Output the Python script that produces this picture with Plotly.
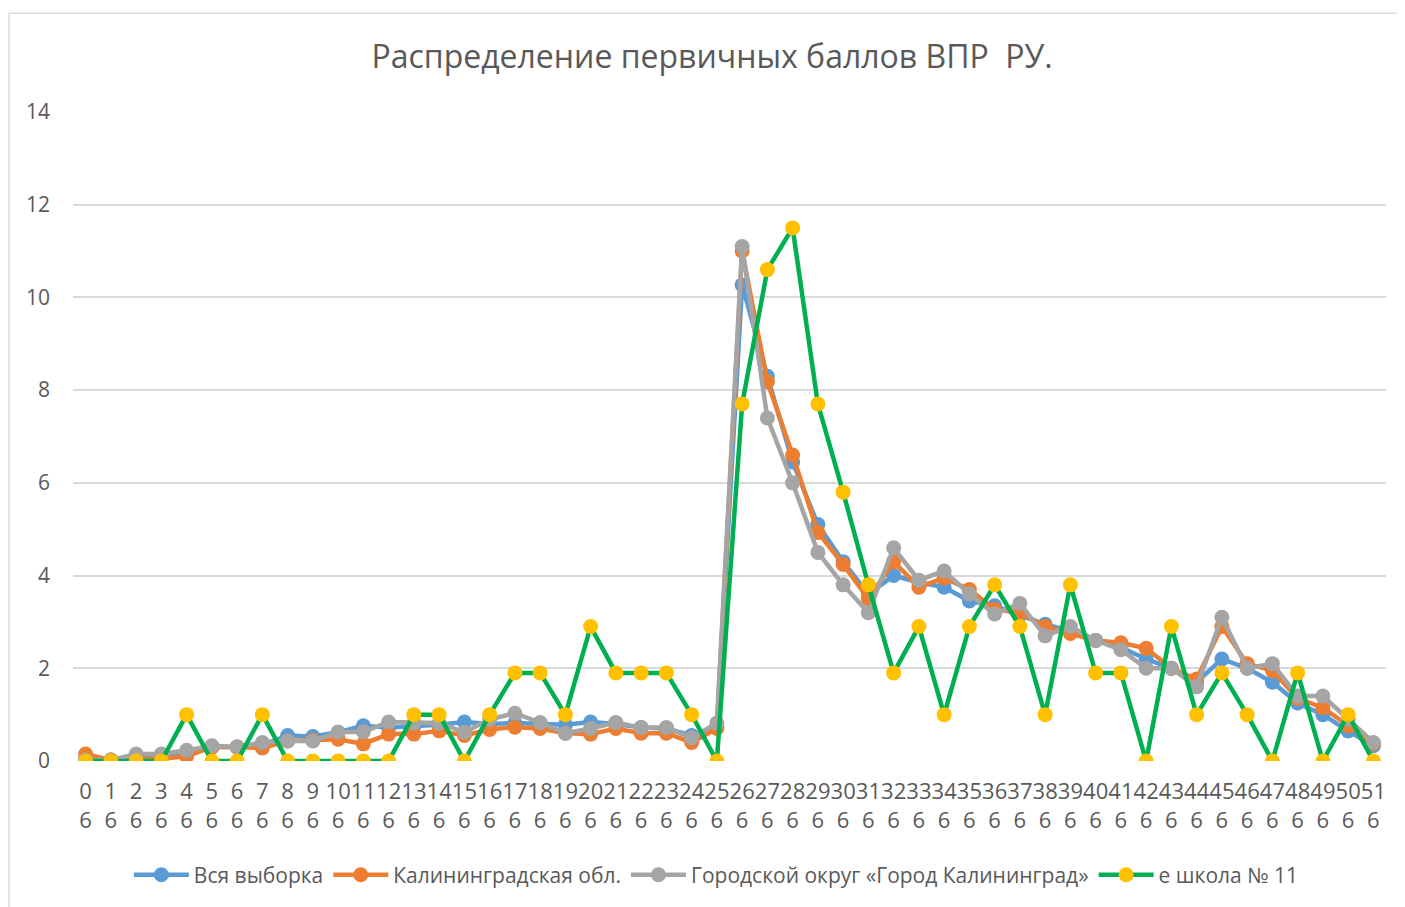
import plotly.graph_objects as go

categories = [str(i) for i in range(52)]
sub_labels = ["6"] * 52

vsya = [0.05, 0.02, 0.05, 0.08, 0.15, 0.3, 0.3, 0.35, 0.55, 0.53, 0.62, 0.76, 0.72, 0.75, 0.78, 0.84, 0.8, 0.82, 0.8, 0.78, 0.84, 0.8, 0.72, 0.7, 0.55, 0.72,
        10.27, 8.3, 6.45, 5.1, 4.3, 3.6, 4.0, 3.85, 3.75, 3.45, 3.35, 3.15, 2.95, 2.8, 2.6, 2.45, 2.2, 2.0, 1.7, 2.2, 2.0, 1.7, 1.25, 1.0, 0.65, 0.33]
kalobl = [0.15, 0.02, 0.05, 0.05, 0.1, 0.3, 0.3, 0.28, 0.43, 0.45, 0.47, 0.37, 0.58, 0.58, 0.65, 0.55, 0.68, 0.73, 0.7, 0.6, 0.58, 0.7, 0.6, 0.6, 0.4, 0.7,
          11.0, 8.18, 6.6, 4.93, 4.24, 3.5, 4.3, 3.75, 3.95, 3.7, 3.27, 3.2, 2.9, 2.75, 2.6, 2.55, 2.43, 2.0, 1.77, 2.9, 2.1, 1.95, 1.35, 1.15, 0.76, 0.38]
gorod = [0.02, 0.02, 0.15, 0.15, 0.23, 0.33, 0.3, 0.4, 0.43, 0.43, 0.62, 0.63, 0.84, 0.82, 0.82, 0.62, 0.9, 1.03, 0.83, 0.6, 0.7, 0.83, 0.72, 0.72, 0.5, 0.82,
         11.1, 7.4, 6.0, 4.5, 3.8, 3.2, 4.6, 3.9, 4.1, 3.6, 3.17, 3.4, 2.7, 2.9, 2.6, 2.4, 2.0, 2.0, 1.6, 3.1, 2.0, 2.1, 1.4, 1.4, 0.9, 0.4]
shkola = [0, 0, 0, 0, 1, 0, 0, 1, 0, 0, 0, 0, 0, 1, 1, 0, 1, 1.9, 1.9, 1, 2.9, 1.9, 1.9, 1.9, 1, 0,
          7.7, 10.6, 11.5, 7.7, 5.8, 3.8, 1.9, 2.9, 1, 2.9, 3.8, 2.9, 1, 3.8, 1.9, 1.9, 0, 2.9, 1, 1.9, 1, 0, 1.9, 0, 1, 0]

series_names = ["Вся выборка", "Калининградская обл.", "Городской округ «Город Калининград»", "е школа № 11"]
title_text = "Распределение первичных баллов ВПР  РУ."
y_ticks = [0, 2, 4, 6, 8, 10, 12, 14]

tick_text = [f"{c}<br>{s}" for c, s in zip(categories, sub_labels)]

fig = go.Figure()
styles = [
    (vsya, "#5B9BD5", "#5B9BD5"),
    (kalobl, "#ED7D31", "#ED7D31"),
    (gorod, "#A5A5A5", "#A5A5A5"),
    (shkola, "#00B050", "#FFC000"),
]
for (vals, lc, mc), name in zip(styles, series_names):
    fig.add_trace(go.Scatter(
        x=categories, y=vals, name=name, mode="lines+markers",
        line=dict(color=lc, width=4.5),
        marker=dict(color=mc, size=15, line=dict(width=0)),
    ))

fig.update_layout(
    width=1397, height=899,
    paper_bgcolor="white", plot_bgcolor="white",
    margin=dict(l=65, r=19, t=104, b=145),
    font=dict(family="Open Sans", color="#595959"),
    title=dict(text=title_text, x=0.504, xref="container", xanchor="center", y=0.9455, yanchor="middle",
               font=dict(size=32, color="#595959", family="Open Sans")),
    showlegend=True,
    legend=dict(orientation="h", x=0.49, xanchor="center", y=-0.174, yanchor="middle",
                font=dict(size=21, color="#595959"), itemwidth=55, tracegroupgap=0),
    xaxis=dict(type="category", tickmode="array", tickvals=categories, ticktext=tick_text,
               range=[-0.5, 51.5], showgrid=False, showline=False, ticks="",
               tickfont=dict(size=22, color="#595959"), tickangle=0, zeroline=False,
               ticklabelstandoff=15),
    yaxis=dict(range=[0, 14], tickvals=y_ticks, showgrid=True, gridcolor="#D9D9D9", gridwidth=1.5,
               zeroline=False, showline=False, ticks="", ticklabelstandoff=22,
               tickfont=dict(size=21, color="#595959")),
)

# chart-area border (left and top edges visible)
fig.add_shape(type="line", xref="paper", yref="paper", x0=-0.0487, x1=-0.0487, y0=1.152, y1=-0.3,
              line=dict(color="#D9D9D9", width=1.5))
fig.add_shape(type="line", xref="paper", yref="paper", x0=-0.0487, x1=1.02, y0=1.152, y1=1.152,
              line=dict(color="#D9D9D9", width=1.5))

fig.write_html("out.html")
